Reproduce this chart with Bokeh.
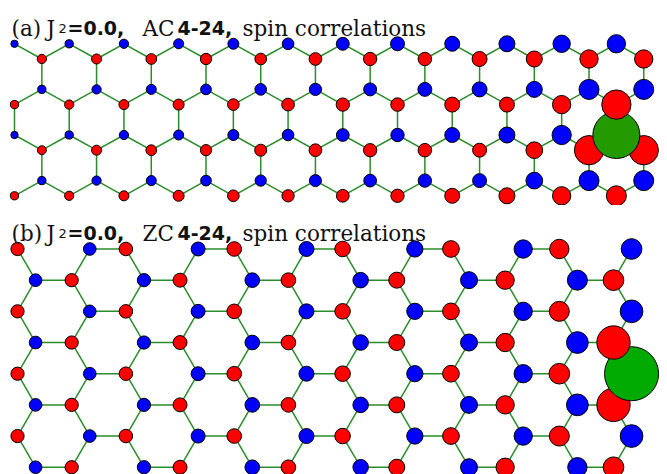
import numpy as np
from bokeh.plotting import figure
from bokeh.models import ColumnDataSource, Label, Range1d
from bokeh.layouts import column
from bokeh.embed import file_html
from bokeh.resources import INLINE

# ---------------- data (spin correlations <S_ref . S_j>) ----------------
# Panel (a): AC4-24 cylinder. 8 rows of sites (top to bottom), 12 sites per row (left to right).
AC_ROW0 = [0.018, 0.023, 0.029, 0.034, 0.041, 0.046, 0.057, 0.066, 0.076, 0.087, 0.102, 0.114]
AC_ROW1 = [-0.029, -0.034, -0.039, -0.043, -0.046, -0.055, -0.060, -0.062, -0.076, -0.087, -0.114, -0.114]
AC_ROW2 = [0.023, 0.029, 0.034, 0.039, 0.046, 0.051, 0.057, 0.066, 0.076, 0.087, 0.136, 0.136]
AC_ROW3 = [-0.023, -0.029, -0.034, -0.041, -0.046, -0.055, -0.060, -0.062, -0.076, -0.076, -0.114, -0.291]
AC_ROW4 = [0.018, 0.023, 0.029, 0.034, 0.041, 0.046, 0.055, 0.060, 0.076, 0.087, 0.126, 0.750]
AC_ROW5 = [-0.027, -0.034, -0.039, -0.043, -0.049, -0.055, -0.060, -0.062, -0.066, -0.095, -0.291, -0.291]
AC_ROW6 = [0.023, 0.029, 0.034, 0.039, 0.043, 0.049, 0.055, 0.060, 0.066, 0.095, 0.136, 0.136]
AC_ROW7 = [-0.023, -0.029, -0.034, -0.041, -0.046, -0.051, -0.055, -0.060, -0.076, -0.087, -0.114, -0.136]
AC_REF = (4, 11)   # (row, position in row) of the reference site

# Panel (b): ZC4-24 cylinder. 8 rows of sites (top to bottom), 12 sites per row (left to right).
ZC_ROW0 = [-0.045, 0.041, -0.047, 0.050, -0.055, 0.058, -0.062, 0.068, -0.072, 0.086, -0.096, 0.110]
ZC_ROW1 = [0.041, -0.045, 0.045, -0.050, 0.055, -0.055, 0.062, -0.066, 0.074, -0.086, 0.103, -0.110]
ZC_ROW2 = [-0.045, 0.041, -0.047, 0.050, -0.055, 0.058, -0.062, 0.068, -0.072, 0.086, -0.103, 0.132]
ZC_ROW3 = [0.041, -0.045, 0.045, -0.050, 0.055, -0.055, 0.062, -0.066, 0.074, -0.086, 0.121, -0.285]
ZC_ROW4 = [-0.045, 0.041, -0.047, 0.050, -0.055, 0.058, -0.062, 0.068, -0.072, 0.086, -0.110, 0.750]
ZC_ROW5 = [0.041, -0.045, 0.045, -0.050, 0.055, -0.055, 0.062, -0.066, 0.074, -0.086, 0.121, -0.285]
ZC_ROW6 = [-0.045, 0.041, -0.047, 0.050, -0.055, 0.058, -0.062, 0.068, -0.072, 0.086, -0.103, 0.132]
ZC_ROW7 = [0.041, -0.045, 0.045, -0.050, 0.055, -0.055, 0.062, -0.066, 0.074, -0.086, 0.096, -0.110]
ZC_REF = (4, 11)

# title pieces: (text, kind)
TITLE_A = [("(a)", "serif"), ("J", "serif"), ("2", "sub"), ("=0.0,", "bold"),
           ("AC", "serif"), ("4-24,", "bold"), ("spin correlations", "serif")]
TITLE_B = [("(b)", "serif"), ("J", "serif"), ("2", "sub"), ("=0.0,", "bold"),
           ("ZC", "serif"), ("4-24,", "bold"), ("spin correlations", "serif")]

# ---------------- styles ----------------
RED, BLUE = "#ff0000", "#0000ff"
GREEN_A, GREEN_B = "#229a00", "#00aa00"
BOND = "#2a8c2a"
TITLE_X = [11, 46, 58, 67, 142, 177, 242]
FONT = {"serif": ("DejaVu Serif", "21.5px", "normal"),
        "sub": ("DejaVu Sans", "13px", "normal"),
        "bold": ("DejaVu Sans", "19px", "bold")}
H3 = np.sqrt(3) / 2


def ac_positions():
    """Armchair-cylinder honeycomb, bond length 1, vertical bonds."""
    ylev = [0, -0.5, -1.5, -2, -3, -3.5, -4.5, -5]
    pos = []
    for r in range(8):
        odd = r in (1, 2, 5, 6)
        pos.append([((2 * k + (1 if odd else 0)) * H3, ylev[r]) for k in range(12)])
    return pos


def zc_positions():
    """Zigzag-cylinder honeycomb, bond length 1, horizontal bonds."""
    pos = []
    for r in range(8):
        ms = []
        for k in range(6):
            ms += [6 * k + 1, 6 * k + 3] if r % 2 else [6 * k, 6 * k + 4]
        pos.append([(0.5 * m, -r * H3) for m in ms])
    return pos


def build(p, rows, ref, pos, size_scale, green):
    xs, ys, vals, isref = [], [], [], []
    for r in range(8):
        for k in range(12):
            xs.append(pos[r][k][0]); ys.append(pos[r][k][1])
            vals.append(rows[r][k]); isref.append((r, k) == ref)
    xs, ys = np.array(xs), np.array(ys)
    # bonds: nearest-neighbour pairs (distance = one bond length)
    x0, y0, x1, y1 = [], [], [], []
    n = len(xs)
    for a in range(n):
        for b in range(a + 1, n):
            if abs(np.hypot(xs[a] - xs[b], ys[a] - ys[b]) - 1.0) < 0.05:
                x0.append(xs[a]); y0.append(ys[a]); x1.append(xs[b]); y1.append(ys[b])
    p.segment(x0, y0, x1, y1, line_color=BOND, line_width=1.5)
    colors = [green if f else (BLUE if v > 0 else RED) for v, f in zip(vals, isref)]
    sizes = [size_scale * np.sqrt(abs(v)) for v in vals]
    order = np.argsort(ys, kind="stable")  # draw bottom rows first
    src = ColumnDataSource(dict(x=xs[order], y=ys[order],
                                c=[colors[i] for i in order],
                                s=[sizes[i] for i in order]))
    p.scatter("x", "y", size="s", fill_color="c", line_color="black",
              line_width=1, source=src)


def make_fig(w, h, xr, yr):
    p = figure(width=w, height=h, x_range=Range1d(*xr), y_range=Range1d(*yr),
               output_backend="svg", toolbar_location=None,
               x_axis_type=None, y_axis_type=None, min_border=0)
    p.outline_line_color = None
    p.background_fill_color = "white"
    p.border_fill_color = "white"
    return p


def add_title(p, pieces, y):
    for (txt, kind), x in zip(pieces, TITLE_X):
        fam, size, style = FONT[kind]
        p.add_layout(Label(x=x, y=y, x_units="screen", y_units="screen", text=txt,
                           text_font=fam, text_font_size=size,
                           text_font_style=style, text_color="#111111",
                           text_baseline="alphabetic", text_align="left"))


pa = make_fig(667, 205, (-0.443, 20.671), (-5.319, 1.424))
build(pa, [AC_ROW0, AC_ROW1, AC_ROW2, AC_ROW3, AC_ROW4, AC_ROW5, AC_ROW6, AC_ROW7],
      AC_REF, ac_positions(), 54.3, GREEN_A)
add_title(pa, TITLE_A, 177.3)

pb = make_fig(667, 269, (-0.471, 17.995), (-6.264, 1.208))
build(pb, [ZC_ROW0, ZC_ROW1, ZC_ROW2, ZC_ROW3, ZC_ROW4, ZC_ROW5, ZC_ROW6, ZC_ROW7],
      ZC_REF, zc_positions(), 62.4, GREEN_B)
add_title(pb, TITLE_B, 241.3)

layout = column(pa, pb, spacing=0)
open("out.html", "w").write(file_html(layout, INLINE))
